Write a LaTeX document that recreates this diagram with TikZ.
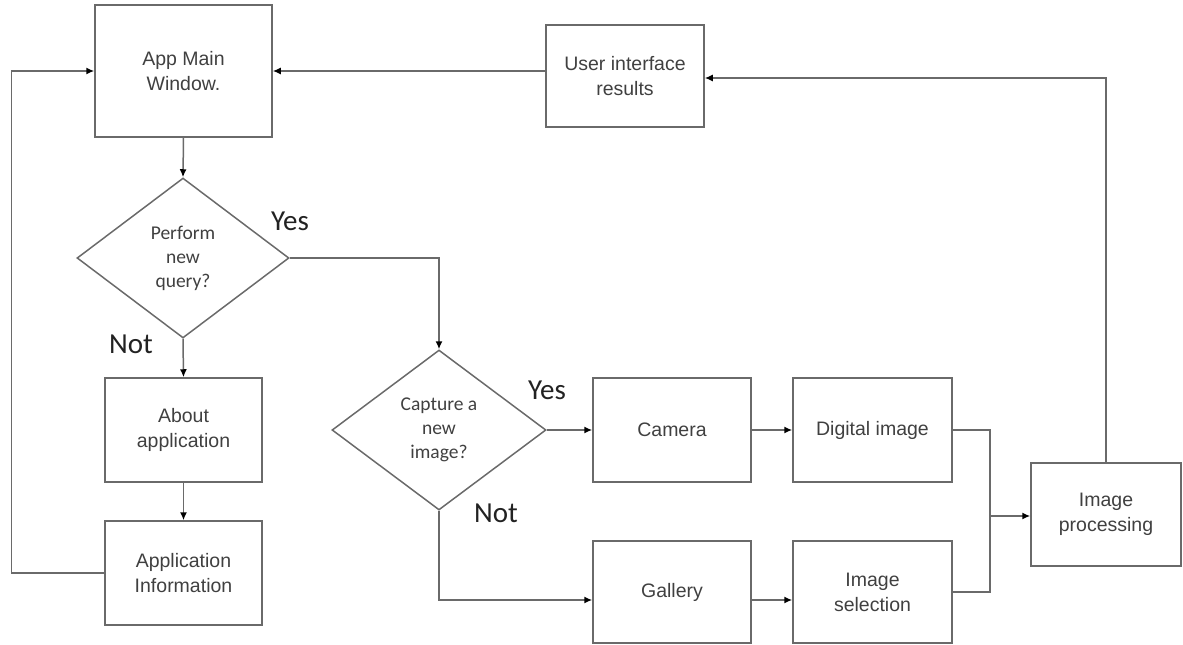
\documentclass[tikz,border=0pt]{standalone}
\usepackage{fontspec}
\setmainfont{Liberation Sans}
\newfontfamily\calib{Carlito}
\usetikzlibrary{arrows.meta,shapes.geometric}
\definecolor{linec}{HTML}{6A6A6A}
\definecolor{txtc}{HTML}{404040}
\definecolor{labc}{HTML}{222222}
\begin{document}
\begin{tikzpicture}[x=1pt,y=-1pt,
  box/.style={draw=linec,line width=1.5pt,rectangle,inner sep=0pt,align=center,
    text=txtc,font=\fontsize{19.5}{25}\selectfont},
  dec/.style={draw=linec,line width=1.5pt,diamond,inner sep=0pt,align=center,
    text=txtc,font=\calib\fontsize{19.5}{24}\selectfont,aspect=1.33},
  arr/.style={draw=linec,line width=1.5pt,-{Latex[length=8pt,width=7pt,black]}},
  ln/.style={draw=linec,line width=1.5pt},
  lab/.style={text=labc,font=\calib\fontsize{29}{30}\selectfont,inner sep=0pt}]
\useasboundingbox (0,0) rectangle (1183,645);
\node[box,minimum width=177pt,minimum height=132pt] (main) at (183.5,71) {App Main\\Window.};
\node[box,minimum width=158pt,minimum height=102pt] (ui) at (625,76) {User interface\\results};
\node[dec,minimum width=212pt,minimum height=160pt] (d1) at (183,258) {Perform\\new\\query?};
\node[box,minimum width=157pt,minimum height=104pt] (about) at (183.5,430) {About\\application};
\node[box,minimum width=157pt,minimum height=104pt] (info) at (183.5,573) {Application\\Information};
\node[dec,minimum width=214pt,minimum height=160pt] (d2) at (439,430) {Capture a\\new\\image?};
\node[box,minimum width=158pt,minimum height=104pt] (camera) at (672,430) {Camera};
\node[box,minimum width=159pt,minimum height=104pt] (digital) at (872.5,430) {Digital image};
\node[box,minimum width=158pt,minimum height=102pt] (gallery) at (672,592) {Gallery};
\node[box,minimum width=159pt,minimum height=102pt] (sel) at (872.5,592) {Image\\selection};
\node[box,minimum width=150pt,minimum height=103pt] (proc) at (1106,514.5) {Image\\processing};
\node[lab] (yes1) at (290,221) {Yes};
\node[lab] (not1) at (131,344) {Not};
\node[lab] (yes2) at (547,390) {Yes};
\node[lab] (not2) at (496,513) {Not};
\coordinate (mx) at (990,516);
\draw[arr] (main.south) -- (d1.north);
\draw[arr] (d1.east) -- (d1.east -| d2.north) -- (d2.north);
\draw[arr] (d1.south) -- (about.north);
\draw[arr] (about.south) -- (info.north);
\draw[arr] (info.west) -| ([xshift=-83pt]main.west) -- (main.west);
\draw[arr] (main.east -| ui.west) -- (main.east);
\draw[arr] (proc.north) |- ([yshift=-2pt]ui.east);
\draw[arr] (d2.east) -- (camera.west);
\draw[arr] (d2.south) |- ([yshift=-8pt]gallery.west);
\draw[arr] (camera.east) -- (digital.west);
\draw[arr] ([yshift=-8pt]gallery.east) -- ([yshift=-8pt]sel.west);
\draw[ln] (digital.east) -| (mx) |- (sel.east);
\draw[arr] (mx) -- (mx -| proc.west);
\end{tikzpicture}
\end{document}
